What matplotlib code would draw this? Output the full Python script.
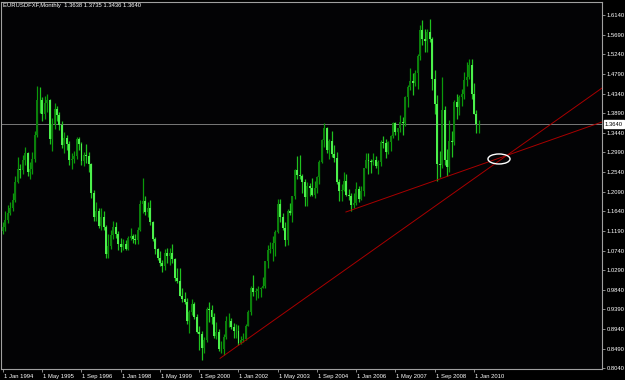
import numpy as np
import matplotlib
matplotlib.use("Agg")
import matplotlib.pyplot as plt
from matplotlib.patches import Ellipse
from matplotlib.transforms import ScaledTranslation

# EURUSD monthly bars, Jan 1994 .. Mar 2010 (last bar still open)
first_open = 1.118
close = [
    1.128, 1.145, 1.160, 1.172, 1.190, 1.232, 1.262, 1.258, 1.282, 1.298, 1.255, 1.262,  # 1994
    1.285, 1.340, 1.420, 1.418, 1.388, 1.412, 1.420, 1.330, 1.365, 1.398, 1.385, 1.362,  # 1995
    1.315, 1.332, 1.318, 1.282, 1.285, 1.290, 1.330, 1.318, 1.280, 1.292, 1.290, 1.272,  # 1996
    1.205, 1.150, 1.165, 1.130, 1.152, 1.128, 1.065, 1.085, 1.110, 1.128, 1.112, 1.090,  # 1997
    1.082, 1.088, 1.078, 1.102, 1.108, 1.100, 1.098, 1.122, 1.180, 1.188, 1.162, 1.172,  # 1998
    1.140, 1.100, 1.078, 1.058, 1.045, 1.038, 1.068, 1.062, 1.068, 1.055, 1.010, 1.005,  # 1999
    0.970, 0.964, 0.957, 0.912, 0.934, 0.952, 0.922, 0.888, 0.883, 0.850, 0.870, 0.940,  # 2000
    0.938, 0.922, 0.878, 0.887, 0.848, 0.849, 0.876, 0.912, 0.912, 0.899, 0.889, 0.890,  # 2001
    0.862, 0.868, 0.872, 0.901, 0.933, 0.987, 0.978, 0.981, 0.986, 0.989, 0.993, 1.049,  # 2002
    1.076, 1.078, 1.091, 1.116, 1.181, 1.150, 1.125, 1.099, 1.165, 1.160, 1.198, 1.259,  # 2003
    1.247, 1.245, 1.230, 1.197, 1.222, 1.218, 1.202, 1.218, 1.243, 1.276, 1.327, 1.356,  # 2004
    1.304, 1.325, 1.296, 1.287, 1.231, 1.210, 1.212, 1.234, 1.202, 1.199, 1.179, 1.184,  # 2005
    1.216, 1.192, 1.211, 1.263, 1.282, 1.279, 1.276, 1.281, 1.267, 1.276, 1.323, 1.320,  # 2006
    1.300, 1.323, 1.336, 1.366, 1.345, 1.354, 1.369, 1.366, 1.426, 1.449, 1.462, 1.459,  # 2007
    1.481, 1.519, 1.579, 1.560, 1.555, 1.575, 1.560, 1.467, 1.409, 1.273, 1.270, 1.397,  # 2008
    1.281, 1.266, 1.325, 1.323, 1.415, 1.403, 1.425, 1.434, 1.464, 1.472, 1.500, 1.432,  # 2009
    1.387, 1.363, 1.3640,                                                                # 2010
]
high = [
    1.140, 1.165, 1.178, 1.185, 1.205, 1.245, 1.288, 1.272, 1.292, 1.312, 1.300, 1.276,
    1.300, 1.348, 1.452, 1.448, 1.425, 1.428, 1.432, 1.422, 1.378, 1.412, 1.405, 1.392,
    1.372, 1.345, 1.340, 1.325, 1.298, 1.302, 1.335, 1.335, 1.322, 1.300, 1.318, 1.300,
    1.275, 1.212, 1.185, 1.172, 1.172, 1.165, 1.132, 1.112, 1.120, 1.142, 1.140, 1.118,
    1.102, 1.100, 1.098, 1.108, 1.125, 1.112, 1.112, 1.128, 1.190, 1.240, 1.198, 1.185,
    1.190, 1.142, 1.105, 1.080, 1.072, 1.052, 1.078, 1.080, 1.080, 1.090, 1.058, 1.035,
    1.034, 0.989, 0.978, 0.965, 0.937, 0.964, 0.955, 0.929, 0.901, 0.889, 0.875, 0.944,
    0.955, 0.948, 0.931, 0.910, 0.895, 0.866, 0.882, 0.925, 0.931, 0.920, 0.909, 0.906,
    0.904, 0.878, 0.884, 0.906, 0.938, 0.993, 1.018, 0.989, 0.993, 0.991, 1.014, 1.050,
    1.087, 1.094, 1.108, 1.121, 1.193, 1.193, 1.160, 1.140, 1.169, 1.184, 1.200, 1.262,
    1.290, 1.293, 1.250, 1.239, 1.232, 1.229, 1.240, 1.234, 1.245, 1.281, 1.330, 1.367,
    1.358, 1.329, 1.349, 1.316, 1.299, 1.239, 1.227, 1.253, 1.250, 1.214, 1.206, 1.205,
    1.231, 1.223, 1.221, 1.264, 1.298, 1.297, 1.285, 1.298, 1.291, 1.282, 1.328, 1.336,
    1.330, 1.326, 1.340, 1.368, 1.368, 1.355, 1.385, 1.379, 1.428, 1.453, 1.493, 1.480,
    1.488, 1.524, 1.590, 1.602, 1.582, 1.581, 1.604, 1.563, 1.487, 1.430, 1.302, 1.472,
    1.405, 1.306, 1.374, 1.348, 1.418, 1.434, 1.431, 1.445, 1.484, 1.506, 1.514, 1.514,
    1.458, 1.397, 1.3735,
]
low = [
    1.112, 1.118, 1.138, 1.155, 1.165, 1.185, 1.228, 1.240, 1.250, 1.270, 1.245, 1.238,
    1.250, 1.278, 1.335, 1.390, 1.372, 1.375, 1.392, 1.318, 1.302, 1.352, 1.370, 1.350,
    1.308, 1.298, 1.305, 1.270, 1.262, 1.275, 1.285, 1.305, 1.270, 1.268, 1.275, 1.255,
    1.195, 1.142, 1.142, 1.125, 1.120, 1.120, 1.058, 1.056, 1.078, 1.100, 1.102, 1.076,
    1.070, 1.076, 1.075, 1.075, 1.098, 1.092, 1.088, 1.088, 1.118, 1.160, 1.155, 1.150,
    1.132, 1.095, 1.065, 1.052, 1.038, 1.025, 1.030, 1.045, 1.040, 1.045, 1.005, 1.000,
    0.969, 0.956, 0.951, 0.905, 0.884, 0.926, 0.916, 0.886, 0.845, 0.823, 0.839, 0.865,
    0.910, 0.906, 0.874, 0.872, 0.843, 0.840, 0.835, 0.872, 0.898, 0.895, 0.874, 0.874,
    0.857, 0.859, 0.864, 0.869, 0.900, 0.927, 0.970, 0.960, 0.966, 0.968, 0.988, 0.987,
    1.034, 1.069, 1.051, 1.062, 1.115, 1.140, 1.120, 1.085, 1.087, 1.155, 1.140, 1.193,
    1.239, 1.237, 1.206, 1.176, 1.176, 1.200, 1.198, 1.195, 1.207, 1.226, 1.275, 1.312,
    1.297, 1.285, 1.289, 1.277, 1.227, 1.187, 1.187, 1.210, 1.199, 1.190, 1.164, 1.171,
    1.179, 1.186, 1.189, 1.200, 1.263, 1.250, 1.251, 1.270, 1.264, 1.249, 1.268, 1.310,
    1.286, 1.295, 1.303, 1.333, 1.340, 1.327, 1.346, 1.338, 1.360, 1.403, 1.441, 1.431,
    1.452, 1.445, 1.510, 1.545, 1.529, 1.529, 1.553, 1.443, 1.388, 1.233, 1.242, 1.264,
    1.271, 1.246, 1.255, 1.289, 1.316, 1.375, 1.385, 1.405, 1.422, 1.451, 1.468, 1.422,
    1.386, 1.344, 1.3436,
]

date_labels = ["1 Jan 1994", "1 May 1995", "1 Sep 1996", "1 Jan 1998", "1 May 1999",
               "1 Sep 2000", "1 Jan 2002", "1 May 2003", "1 Sep 2004", "1 Jan 2006",
               "1 May 2007", "1 Sep 2008", "1 Jan 2010"]
title = "EURUSDFXF,Monthly  1.3638 1.3735 1.3436 1.3640"
bid = 1.3640

# trend lines drawn by hand on the chart (bar index, price)
trend1_bar = [88.5, 244.2]
trend1_price = [0.8269, 1.4466]
trend2_bar = [139.8, 244.2]
trend2_price = [1.1624, 1.3687]
circle_bar, circle_price = 202.2, 1.2839

FONT = "Liberation Sans"
FS = 4.2
GREY = "#a0a0a0"

c = np.array(close)
o = np.concatenate([[first_open], c[:-1]])
h = np.array(high)
l = np.array(low)
x = np.arange(len(c))
up = c >= o

fig = plt.figure(figsize=(6.25, 3.8), dpi=100, facecolor="black")
ax = fig.add_axes([1 / 625, 11 / 380, 601 / 625, 367 / 380])
ax.set_facecolor("#030305")

# candles
ax.vlines(x[up], l[up], h[up], color="#0a9a0a", lw=0.9, zorder=2)
ax.vlines(x[~up], l[~up], h[~up], color="#1fc21f", lw=0.9, zorder=2)
ax.bar(x[up], c[up] - o[up], bottom=o[up], width=0.8, color="#0b800b", zorder=3)
ax.bar(x[~up], o[~up] - c[~up], bottom=c[~up], width=0.8, color="#4cf04c", zorder=3)

ax.axhline(bid, color="#8c8c8c", lw=0.6, zorder=1)

ax.plot(trend1_bar, trend1_price, color="#a80000", lw=0.7, zorder=4)
ax.plot(trend2_bar, trend2_price, color="#a80000", lw=0.7, zorder=4)
ax.add_patch(Ellipse((circle_bar, circle_price), 9.0, 0.0229, fill=False,
                     ec="white", lw=1.0, zorder=5))

ax.set_xlim(-0.815, 244.19)
ax.set_ylim(0.8024, 1.6438)

# axes frame
for s in ax.spines.values():
    s.set_color(GREY)
    s.set_linewidth(0.8)

ax.set_xticks(np.arange(len(date_labels)) * 16)
ax.set_xticklabels(date_labels)
yt = 0.8040 + 0.045 * np.arange(19)
ax.set_yticks(yt)
ax.set_yticklabels([f"{v:.4f}" for v in yt])
ax.yaxis.tick_right()
ax.tick_params(axis="both", colors=GREY, direction="out", length=2, width=0.6,
               labelcolor="white", labelsize=FS, pad=1.5)
for lbl in ax.get_xticklabels():
    lbl.set_horizontalalignment("left")
    lbl.set_fontfamily(FONT)
    lbl.set_transform(lbl.get_transform() + ScaledTranslation(1 / 100, 0, fig.dpi_scale_trans))
for lbl in ax.get_yticklabels():
    lbl.set_fontfamily(FONT)

ax.annotate(title, xy=(0, 1), xycoords="axes fraction", xytext=(2, -4),
            textcoords="offset pixels", ha="left", va="center", color="white",
            fontsize=FS, family=FONT)
ax.annotate(f"{bid:.4f}", xy=(1, bid), xycoords=("axes fraction", "data"),
            xytext=(3, 0), textcoords="offset pixels", ha="left", va="center",
            color="black", fontsize=FS, family=FONT, annotation_clip=False,
            bbox=dict(boxstyle="square,pad=0.2", fc="white", ec="white"))

fig.savefig("out.png", dpi=100, facecolor="black")
